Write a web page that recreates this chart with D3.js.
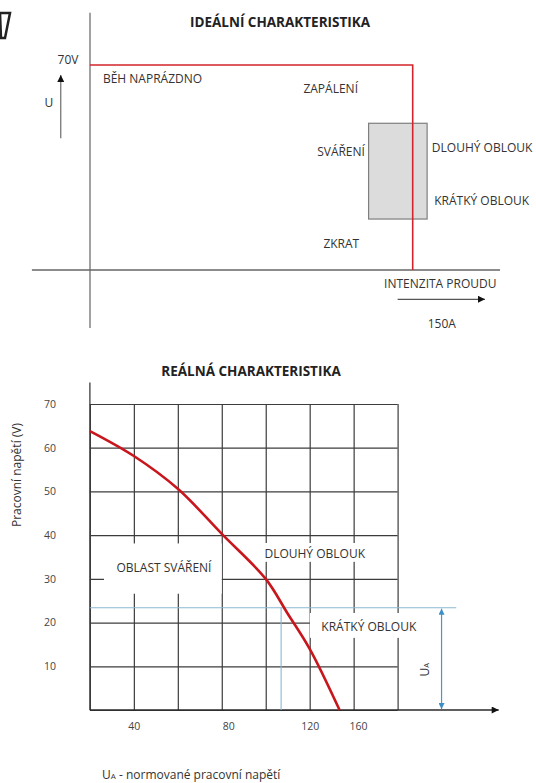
<!DOCTYPE html>
<html>
<head>
<meta charset="utf-8">
<script src="https://cdn.jsdelivr.net/npm/d3@7"></script>
<style>
  body { margin: 0; background: #fff; }
  svg { display: block; font-family: 'Open Sans', sans-serif; }
  .lbl { fill: #333; font-size: 12px; }
  .ttl { fill: #222; font-size: 13.5px; font-weight: bold; }
</style>
</head>
<body>
<div id="chart"></div>
<script>
// ---- ideal characteristic (A, V) ----
const idealCurve = [[0, 70], [150, 70], [150, 0]]
const idealBoxAmps = [129.5, 156.7]
const idealBoxVolts = [17.4, 50.1]
const idealLabels = [
  ['BĚH NAPRÁZDNO', 6, 65.2],
  ['ZAPÁLENÍ', 99.2, 62],
  ['DLOUHÝ OBLOUK', 158.9, 41.8],
  ['KRÁTKÝ OBLOUK', 160, 23.6],
  ['ZKRAT', 108.5, 8.8],
  ['INTENZITA PROUDU', 136.7, -4.7],
  ['150A', 157, -18.2]
]
const idealLabelsEnd = [['SVÁŘENÍ', 127.8, 40.4]]
const idealLabelsMid = [['70V', -10.2, 71.7], ['U', -19.1, 57]]

// ---- real characteristic (A, V) ----
const realCurve = [[20, 63.8], [40, 58.1], [60, 50.6], [80, 40.3], [100, 30], [109.8, 22.2], [120, 14], [133.6, 0]]
const gridAmps = [20, 40, 60, 80, 100, 120, 140, 160]
const gridVolts = [0, 10, 20, 30, 40, 50, 60, 70]
const yTickValues = [10, 20, 30, 40, 50, 60, 70]
const xTickLabels = ['40', '80', '120', '160']
const xTickAt = [40, 83, 120, 142]
const ratedVolts = 23.4
const ratedAmps = 107
const ratedArrowAmps = 180
const ratedLineEnd = 186.7
// white label boxes: [text, amps center, volts center, box amps, box volts]
const realLabels = [
  ['OBLAST SVÁŘENÍ', 53.7, 32.5, [26.4, 80], [26.6, 38.1]],
  ['DLOUHÝ OBLOUK', 122.3, 35.8, [96.5, 148.3], [33.9, 38.2]],
  ['KRÁTKÝ OBLOUK', 146.9, 19, [120.1, 172.4], [16.5, 22.2]]
]

const width = 536, height = 783
const svg = d3.select('#chart').append('svg')
  .attr('width', width).attr('height', height)

const defs = svg.append('defs')
function marker(id, color, w, h) {
  defs.append('marker')
    .attr('id', id)
    .attr('viewBox', '0 0 10 10')
    .attr('refX', 10).attr('refY', 5)
    .attr('markerUnits', 'userSpaceOnUse')
    .attr('markerWidth', w).attr('markerHeight', h)
    .attr('orient', 'auto-start-reverse')
    .append('path').attr('d', 'M0,0L10,5L0,10Z').attr('fill', color)
}
marker('blk', '#111', 10, 7)
marker('blu', '#3b8fc6', 7, 6)

// cut-off glyph top left
svg.append('path')
  .attr('d', 'M0,13L10,13L5,38L1,38Z')
  .attr('fill', 'none').attr('stroke', '#222').attr('stroke-width', 2.5)

/// ///// IDEAL //////
const xI = d3.scaleLinear().domain([0, 150]).range([90, 412.7])
const yI = d3.scaleLinear().domain([0, 70]).range([270, 65])
const topG = svg.append('g')

topG.append('text').attr('class', 'ttl')
  .attr('x', 280).attr('y', 22).attr('dy', '0.35em')
  .attr('text-anchor', 'middle')
  .text('IDEÁLNÍ CHARAKTERISTIKA')

// axes
topG.append('line')
  .attr('x1', xI(0)).attr('x2', xI(0))
  .attr('y1', yI(87.8)).attr('y2', yI(-19.8))
  .attr('stroke', '#7a7a7a').attr('stroke-width', 1.4)
topG.append('line')
  .attr('x1', xI(-27)).attr('x2', xI(190.6))
  .attr('y1', yI(0)).attr('y2', yI(0))
  .attr('stroke', '#666').attr('stroke-width', 1.4)

// box
topG.append('rect')
  .attr('x', xI(idealBoxAmps[0])).attr('y', yI(idealBoxVolts[1]))
  .attr('width', xI(idealBoxAmps[1]) - xI(idealBoxAmps[0]))
  .attr('height', yI(idealBoxVolts[0]) - yI(idealBoxVolts[1]))
  .attr('fill', '#dcdcdc').attr('stroke', '#7f7f7f').attr('stroke-width', 1.2)

topG.append('path')
  .datum(idealCurve)
  .attr('d', d3.line().x(d => xI(d[0])).y(d => yI(d[1])))
  .attr('fill', 'none').attr('stroke', '#d2242a').attr('stroke-width', 1.6)

// arrows U and I
topG.append('line')
  .attr('x1', xI(-13.6)).attr('x2', xI(-13.6))
  .attr('y1', yI(45)).attr('y2', yI(66.6))
  .attr('stroke', '#777').attr('stroke-width', 1.3)
  .attr('marker-end', 'url(#blk)')
topG.append('line')
  .attr('x1', xI(143)).attr('x2', xI(183.6))
  .attr('y1', yI(-10)).attr('y2', yI(-10))
  .attr('stroke', '#555').attr('stroke-width', 1.3)
  .attr('marker-end', 'url(#blk)')

topG.selectAll('text.s').data(idealLabels).join('text')
  .attr('class', 'lbl s')
  .attr('x', d => xI(d[1])).attr('y', d => yI(d[2])).attr('dy', '0.35em')
  .text(d => d[0])
topG.selectAll('text.e').data(idealLabelsEnd).join('text')
  .attr('class', 'lbl e')
  .attr('x', d => xI(d[1])).attr('y', d => yI(d[2])).attr('dy', '0.35em')
  .attr('text-anchor', 'end')
  .text(d => d[0])
topG.selectAll('text.m').data(idealLabelsMid).join('text')
  .attr('class', 'lbl m')
  .attr('x', d => xI(d[1])).attr('y', d => yI(d[2])).attr('dy', '0.35em')
  .attr('text-anchor', 'middle')
  .text(d => d[0])

/// ///// REAL //////
const xR = d3.scaleLinear().domain([20, 160]).range([89.9, 397.6])
const yR = d3.scaleLinear().domain([0, 70]).range([710, 404])
const botG = svg.append('g')

botG.append('text').attr('class', 'ttl')
  .attr('x', 251).attr('y', 371).attr('dy', '0.35em')
  .attr('text-anchor', 'middle')
  .text('REÁLNÁ CHARAKTERISTIKA')

// grid
botG.append('g')
  .attr('transform', 'translate(' + xR(20) + ',0)')
  .call(d3.axisRight(yR).tickValues(gridVolts).tickSize(xR(160) - xR(20)).tickFormat(''))
  .call(g => g.select('.domain').remove())
  .selectAll('line').attr('stroke', '#3c3c3c').attr('stroke-width', 1.2)
botG.append('g')
  .attr('transform', 'translate(0,' + yR(0) + ')')
  .call(d3.axisTop(xR).tickValues(gridAmps).tickSize(yR(0) - yR(70)).tickFormat(''))
  .call(g => g.select('.domain').remove())
  .selectAll('line').attr('stroke', '#3c3c3c').attr('stroke-width', 1.2)

// axes
botG.append('line')
  .attr('x1', xR(20)).attr('x2', xR(20))
  .attr('y1', yR(74.9)).attr('y2', yR(0))
  .attr('stroke', '#3c3c3c').attr('stroke-width', 1.3)
botG.append('line')
  .attr('x1', xR(20)).attr('x2', xR(206))
  .attr('y1', yR(0)).attr('y2', yR(0))
  .attr('stroke', '#2a2a2a').attr('stroke-width', 1.6)
  .attr('marker-end', 'url(#blk)')

// white label boxes
botG.selectAll('rect.bx').data(realLabels).join('rect')
  .attr('class', 'bx')
  .attr('x', d => xR(d[3][0])).attr('y', d => yR(d[4][1]))
  .attr('width', d => xR(d[3][1]) - xR(d[3][0]))
  .attr('height', d => yR(d[4][0]) - yR(d[4][1]))
  .attr('fill', '#fff')

// rated voltage lines
const blue = '#8ab8d4'
botG.append('line')
  .attr('x1', xR(20)).attr('x2', xR(ratedLineEnd))
  .attr('y1', yR(ratedVolts)).attr('y2', yR(ratedVolts))
  .attr('stroke', blue).attr('stroke-width', 1.1)
botG.append('line')
  .attr('x1', xR(ratedAmps)).attr('x2', xR(ratedAmps))
  .attr('y1', yR(ratedVolts)).attr('y2', yR(0))
  .attr('stroke', blue).attr('stroke-width', 1.1)
botG.append('line')
  .attr('x1', xR(ratedArrowAmps)).attr('x2', xR(ratedArrowAmps))
  .attr('y1', yR(ratedVolts) + 1).attr('y2', yR(0) - 1)
  .attr('stroke', '#4b97c8').attr('stroke-width', 1.2)
  .attr('marker-start', 'url(#blu)').attr('marker-end', 'url(#blu)')

// curve
botG.append('path')
  .datum(realCurve)
  .attr('d', d3.line().curve(d3.curveCatmullRom).x(d => xR(d[0])).y(d => yR(d[1])))
  .attr('fill', 'none').attr('stroke', '#c8161d').attr('stroke-width', 2.6)

// tick labels
botG.append('g')
  .attr('transform', 'translate(' + xR(20) + ',0)')
  .call(d3.axisLeft(yR).tickValues(yTickValues).tickSize(0).tickPadding(34))
  .call(g => g.select('.domain').remove())
  .selectAll('text').attr('fill', '#444').attr('font-size', 10.5).attr('font-family', 'Open Sans')
botG.append('g')
  .attr('transform', 'translate(0,' + yR(0) + ')')
  .call(d3.axisBottom(xR).tickValues(xTickAt).tickSize(0).tickPadding(13).tickFormat((d, i) => xTickLabels[i]))
  .call(g => g.select('.domain').remove())
  .selectAll('text').attr('fill', '#444').attr('font-size', 10.5).attr('font-family', 'Open Sans')

botG.append('text').attr('class', 'lbl')
  .attr('transform', 'translate(17,475) rotate(-90)')
  .attr('dy', '0.35em').attr('text-anchor', 'middle')
  .attr('font-size', 13.5)
  .text('Pracovní napětí (V)')

botG.selectAll('text.rl').data(realLabels).join('text')
  .attr('class', 'lbl rl')
  .attr('x', d => xR(d[1])).attr('y', d => yR(d[2])).attr('dy', '0.35em')
  .attr('text-anchor', 'middle')
  .attr('font-size', 12.3)
  .text(d => d[0])

const ua = botG.append('text').attr('class', 'lbl')
  .attr('transform', 'translate(' + xR(172.3) + ',' + yR(9.2) + ') rotate(-90)')
  .attr('dy', '0.35em').attr('text-anchor', 'middle')
ua.append('tspan').text('U')
ua.append('tspan').attr('font-size', 7.5).text('A')

const foot = botG.append('text').attr('class', 'lbl')
  .attr('x', 102).attr('y', 775).attr('dy', '0.35em')
  .attr('font-size', 12.5)
foot.append('tspan').text('U')
foot.append('tspan').attr('font-size', 8).text('A')
foot.append('tspan').text(' - normované pracovní napětí')
</script>
</body>
</html>
